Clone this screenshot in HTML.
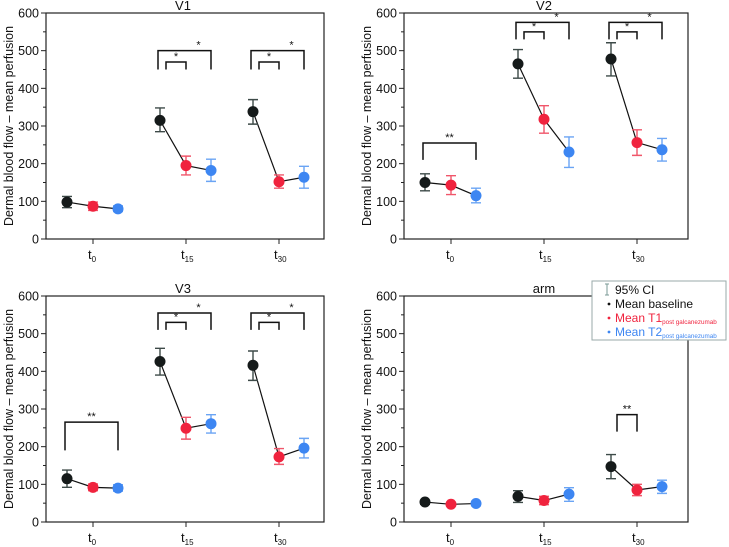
<!DOCTYPE html>
<html><head><meta charset="utf-8"><style>
body{margin:0;background:#fff;}
svg{display:block;font-family:"Liberation Sans",sans-serif;}
</style></head><body>
<svg id="chart" width="729" height="547" viewBox="0 0 729 547" xmlns="http://www.w3.org/2000/svg"></svg>
<script>
const panelTitles = ["V1","V2","V3","arm"];
const categories = ["0","15","30"];
const yTicks = [0,100,200,300,400,500,600];
const seriesNames = ["Mean baseline","Mean T1","Mean T2"];
// means per panel per series [t0,t15,t30]
const meanBaseline = [[98,315,338],[150,465,478],[115,426,416],[53,68,147]];
const meanT1 = [[87,195,152],[143,318,256],[92,249,173],[47,57,85]];
const meanT2 = [[80,182,164],[115,231,237],[90,261,196],[49,74,94]];
const ciLowBaseline = [[83,285,305],[128,427,433],[92,390,376],[47,52,115]];
const ciHighBaseline = [[113,348,370],[173,503,521],[138,461,454],[58,83,179]];
const ciLowT1 = [[76,170,135],[118,281,222],[83,220,153],[43,46,70]];
const ciHighT1 = [[98,220,170],[168,354,290],[101,278,195],[51,68,100]];
const ciLowT2 = [[73,153,135],[96,190,207],[82,236,170],[43,55,76]];
const ciHighT2 = [[88,212,193],[135,271,267],[99,285,222],[55,91,111]];
// brackets: panel, category, fromSeries, toSeries, topValue, legValue, label
const brackets = [
 [0,1,0,2,500,450,"*"],[0,1,0,1,470,450,"*"],[0,2,0,2,500,450,"*"],[0,2,0,1,470,450,"*"],
 [1,0,0,2,255,210,"**"],[1,1,0,2,575,530,"*"],[1,1,0,1,550,530,"*"],[1,2,0,2,575,530,"*"],[1,2,0,1,550,530,"*"],
 [2,0,0,2,265,190,"**"],[2,1,0,2,555,510,"*"],[2,1,0,1,530,510,"*"],[2,2,0,2,555,510,"*"],[2,2,0,1,530,510,"*"],
 [3,2,0,1,285,240,"**"]
];

const svg = document.getElementById('chart');
const NS = "http://www.w3.org/2000/svg";
function mk(tag, attrs, parent){const e=document.createElementNS(NS,tag);for(const k in attrs)e.setAttribute(k,attrs[k]);(parent||svg).appendChild(e);return e;}
const boxes = [{l:46,t:13,r:324,b:239},{l:404,t:13,r:688,b:239},{l:46,t:296,r:324,b:522},{l:404,t:296,r:688,b:522}];
const colors = ["#151a1a","#f0233e","#3d86f2"];
const errColors = ["#3d4a48","#f0566a","#6aa4f4"];
const offsets = [-26,0,25];
const means = [meanBaseline,meanT1,meanT2];
const lows = [ciLowBaseline,ciLowT1,ciLowT2];
const highs = [ciHighBaseline,ciHighT1,ciHighT2];

boxes.forEach((bx,p)=>{
  const g = mk('g',{});
  
  
  const y = v => bx.b - (v/600)*(bx.b-bx.t);
  const catX = i => bx.l + 47 + i*93;
  const x = (i,s) => catX(i) + offsets[s];
  const frame = mk('rect',{x:bx.l,y:bx.t,width:bx.r-bx.l,height:bx.b-bx.t,fill:'none',stroke:'#222','stroke-width':1.2},g);
  
  
  const title = mk('text',{x:(bx.l+bx.r)/2-2,y:bx.t-3,'text-anchor':'middle','font-size':13,fill:'#111'},g);
  title.textContent = panelTitles[p];
  
  
  yTicks.forEach(v=>{
    mk('line',{x1:bx.l-5,x2:bx.l,y1:y(v),y2:y(v),stroke:'#222'},g);
    if(v<600) mk('line',{x1:bx.l-3,x2:bx.l,y1:y(v+50),y2:y(v+50),stroke:'#222'},g);
    const t = mk('text',{x:bx.l-7,y:y(v)+4.5,'text-anchor':'end','font-size':12.5,fill:'#111'},g);
    t.textContent = v;
    
    
  });
  const yt = mk('text',{transform:`translate(${bx.l-33},${(bx.t+bx.b)/2}) rotate(-90)`,'text-anchor':'middle','font-size':12.5,fill:'#111'},g);
  yt.textContent = 'Dermal blood flow – mean perfusion';
  
  
  categories.forEach((c,i)=>{
    mk('line',{x1:catX(i),x2:catX(i),y1:bx.b,y2:bx.b+5,stroke:'#222'},g);
    const t = mk('text',{x:catX(i)-5,y:bx.b+20,'font-size':13,fill:'#111'},g);
    t.innerHTML = 't<tspan font-size="8" dy="3">'+c+'</tspan>';
    
    
  });
  categories.forEach((c,i)=>{
    const pts = [0,1,2].map(s=>x(i,s)+','+y(means[s][p][i])).join(' ');
    const pl = mk('polyline',{points:pts,fill:'none',stroke:'#111','stroke-width':1.2},g);
    
    
  });
  for(let s=0;s<3;s++){
    categories.forEach((c,i)=>{
      const xx=x(i,s), lo=y(lows[s][p][i]), hi=y(highs[s][p][i]);
      const eb = mk('path',{d:`M${xx},${lo}V${hi}M${xx-5},${lo}H${xx+5}M${xx-5},${hi}H${xx+5}`,stroke:errColors[s],'stroke-width':1.4,fill:'none'},g);
      
      
      const pt = mk('circle',{cx:xx,cy:y(means[s][p][i]),r:5.5,fill:colors[s]},g);
      
      
    });
  }
  brackets.filter(b=>b[0]===p).forEach(b=>{
    const [pp,ci,s1,s2,top,leg,lab]=b;
    let x1 = x(ci,s1) + (s2===1?6:-2), x2 = x(ci,s2);
    const br = mk('path',{d:`M${x1},${y(leg)}V${y(top)}H${x2}V${y(leg)}`,fill:'none',stroke:'#111','stroke-width':1.5},g);
    
    
    const st = mk('text',{x:s2===2&&lab==='*'?(x(ci,1)+x2)/2:(x1+x2)/2,y:y(top)-2,'text-anchor':'middle','font-size':11,fill:'#111'},g);
    st.textContent = lab;
    
    
  });
});
// legend
const lg = mk('g',{});


mk('rect',{x:592,y:281,width:134,height:59,fill:'#fff',stroke:'#9aa','stroke-width':1},lg);
mk('path',{d:'M607,284V295M605,284H609M605,295H609',stroke:'#7a9a96','stroke-width':1,fill:'none'},lg);
const lt = [['95% CI','#111',''],['Mean baseline','#111',''],['Mean T1','#f0233e','post galcanezumab'],['Mean T2','#3d86f2','post galcanezumab']];
lt.forEach((e,i)=>{
  const yy = 294 + i*14;
  if(i>0){const d=mk('circle',{cx:609,cy:yy-4,r:1.4,fill:e[1]},lg);}
  const t = mk('text',{x:615,y:yy,'font-size':12,fill:e[1]},lg);
  t.innerHTML = e[0] + (e[2]?'<tspan font-size="6.3" dy="2">'+e[2]+'</tspan>':'');
  
  
});
</script>
</body></html>
